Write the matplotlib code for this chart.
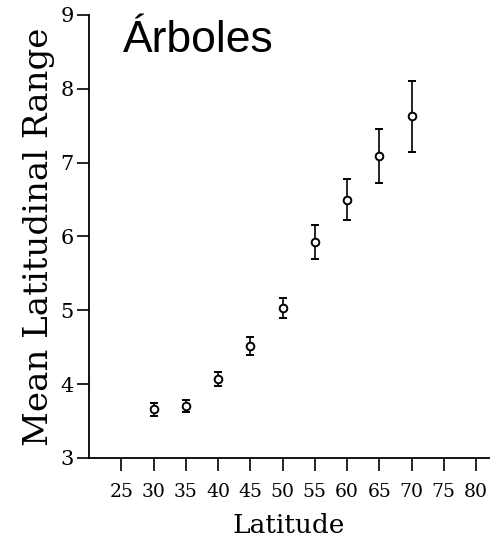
import matplotlib
matplotlib.use("Agg")
import matplotlib.pyplot as plt

latitude = [30, 35, 40, 45, 50, 55, 60, 65, 70]
mean_range = [3.66, 3.70, 4.07, 4.52, 5.03, 5.93, 6.50, 7.09, 7.63]
range_err = [0.09, 0.08, 0.10, 0.12, 0.14, 0.23, 0.28, 0.36, 0.48]
xticks = [25, 30, 35, 40, 45, 50, 55, 60, 65, 70, 75, 80]
yticks = [3, 4, 5, 6, 7, 8, 9]
title_text = "Árboles"
xlabel_text = "Latitude"
ylabel_text = "Mean Latitudinal Range"

fig = plt.figure(figsize=(5.0, 5.46), dpi=100)
ax = fig.add_axes([0.178, 0.1612, 0.80, 0.8114])

ax.errorbar(latitude, mean_range, yerr=range_err, fmt='o', color='black',
            mfc='white', mec='black', ms=5.5, mew=1.4, ecolor='black',
            elinewidth=1.2, capsize=3.2, capthick=1.3)

ax.set_xlim(20, 82)
ax.set_ylim(3, 9)
ax.set_xticks(xticks)
ax.set_yticks(yticks)
serif = ['DejaVu Serif']
ax.set_xticklabels([str(t) for t in xticks], fontsize=13.5, family=serif)
ax.set_yticklabels([str(t) for t in yticks], fontsize=15, family=serif)
ax.tick_params(axis='both', direction='out', length=9, width=1.2, color='black')
ax.tick_params(axis='x', pad=9)
ax.tick_params(axis='y', pad=2)
for s in ['top', 'right']:
    ax.spines[s].set_visible(False)
for s in ['left', 'bottom']:
    ax.spines[s].set_linewidth(1.3)

ax.set_xlabel(xlabel_text, fontsize=19, family=serif, labelpad=9)
ax.set_ylabel(ylabel_text, fontsize=24.5, family=serif, labelpad=4)

fig.text(0.246, 0.905, title_text, fontsize=32, family=['Liberation Sans'],
         ha='left', va='baseline')

fig.savefig("out.png", dpi=100)
